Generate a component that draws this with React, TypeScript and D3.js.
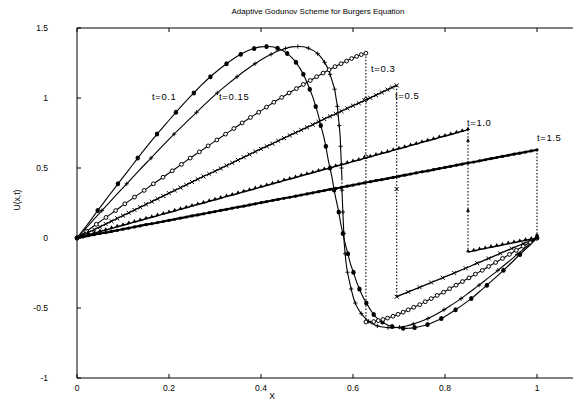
import React from "react";
import * as d3 from "d3";

const W = 573;
const H = 403;

const titleText = "Adaptive Godunov Scheme for Burgers Equation";
const xLabel = "X";
const yLabel = "U(x,t)";
const xTicks = [0, 0.2, 0.4, 0.6, 0.8, 1];
const xTickLabels = ["0", "0.2", "0.4", "0.6", "0.8", "1"];
const yTicks = [-1, -0.5, 0, 0.5, 1, 1.5];
const yTickLabels = ["-1", "-0.5", "0", "0.5", "1", "1.5"];

// Solution profiles U(x,t), as [x, u] pairs. Two consecutive points sharing
// the same x mark a shock (drawn as a dotted vertical jump).
const u_t010: [number, number][] = [
  [0, 0], [0.023, 0.098], [0.045, 0.196], [0.067, 0.292], [0.089, 0.387],
  [0.111, 0.48], [0.132, 0.571], [0.153, 0.658], [0.174, 0.742], [0.195, 0.822],
  [0.215, 0.898], [0.235, 0.97], [0.254, 1.036], [0.272, 1.097], [0.29, 1.152],
  [0.308, 1.202], [0.325, 1.245], [0.341, 1.282], [0.356, 1.312], [0.371, 1.337],
  [0.385, 1.354], [0.399, 1.365], [0.412, 1.368], [0.424, 1.366], [0.436, 1.356],
  [0.447, 1.34], [0.457, 1.317], [0.467, 1.289], [0.476, 1.255], [0.484, 1.215],
  [0.492, 1.169], [0.499, 1.118], [0.506, 1.063], [0.513, 1.003], [0.519, 0.94],
  [0.525, 0.873], [0.53, 0.803], [0.536, 0.73], [0.541, 0.655], [0.545, 0.578],
  [0.55, 0.5], [0.555, 0.421], [0.559, 0.342], [0.564, 0.263], [0.569, 0.185],
  [0.573, 0.108], [0.578, 0.032], [0.583, -0.041], [0.589, -0.112], [0.594, -0.18],
  [0.601, -0.245], [0.607, -0.306], [0.614, -0.364], [0.621, -0.416], [0.629, -0.465],
  [0.637, -0.508], [0.645, -0.547], [0.654, -0.578], [0.664, -0.6], [0.674, -0.62],
  [0.685, -0.632], [0.697, -0.641], [0.709, -0.645], [0.721, -0.645], [0.734, -0.64],
  [0.748, -0.631], [0.762, -0.618], [0.777, -0.598], [0.792, -0.575], [0.807, -0.546],
  [0.823, -0.512], [0.84, -0.474], [0.857, -0.433], [0.874, -0.386], [0.891, -0.337],
  [0.909, -0.285], [0.927, -0.231], [0.945, -0.175], [0.963, -0.117], [0.982, -0.059],
  [1, 0],
];

const u_t015: [number, number][] = [
  [0, 0], [0.027, 0.098], [0.054, 0.196], [0.081, 0.292], [0.108, 0.387],
  [0.134, 0.48], [0.161, 0.571], [0.186, 0.658], [0.211, 0.742], [0.236, 0.822],
  [0.26, 0.898], [0.283, 0.97], [0.305, 1.036], [0.327, 1.097], [0.348, 1.152],
  [0.368, 1.202], [0.387, 1.245], [0.405, 1.282], [0.422, 1.312], [0.438, 1.337],
  [0.453, 1.354], [0.467, 1.365], [0.48, 1.368], [0.492, 1.366], [0.503, 1.356],
  [0.513, 1.34], [0.523, 1.317], [0.531, 1.289], [0.538, 1.255], [0.545, 1.215],
  [0.55, 1.169], [0.555, 1.118], [0.56, 1.063], [0.563, 1.003], [0.566, 0.94],
  [0.568, 0.873], [0.57, 0.803], [0.572, 0.73], [0.573, 0.655], [0.574, 0.578],
  [0.575, 0.5], [0.576, 0.421], [0.576, 0.342], [0.577, 0.263], [0.578, 0.185],
  [0.579, 0.108], [0.58, 0.032], [0.581, -0.041], [0.583, -0.112], [0.585, -0.18],
  [0.588, -0.245], [0.592, -0.306], [0.596, -0.364], [0.6, -0.416], [0.605, -0.465],
  [0.611, -0.506], [0.618, -0.54], [0.626, -0.57], [0.634, -0.595], [0.643, -0.614],
  [0.653, -0.628], [0.664, -0.636], [0.676, -0.64], [0.688, -0.64], [0.701, -0.637],
  [0.716, -0.628], [0.731, -0.615], [0.747, -0.597], [0.763, -0.575], [0.78, -0.546],
  [0.798, -0.512], [0.816, -0.474], [0.835, -0.433], [0.854, -0.386], [0.874, -0.337],
  [0.894, -0.285], [0.915, -0.231], [0.936, -0.175], [0.957, -0.117], [0.978, -0.059],
  [1, 0],
];

const u_t030: [number, number][] = [
  [0, 0], [0.021, 0.049], [0.042, 0.098], [0.063, 0.147], [0.084, 0.196],
  [0.104, 0.244], [0.125, 0.292], [0.146, 0.34], [0.166, 0.387], [0.187, 0.434],
  [0.207, 0.48], [0.227, 0.526], [0.246, 0.571], [0.266, 0.615], [0.285, 0.658],
  [0.304, 0.7], [0.323, 0.742], [0.341, 0.782], [0.359, 0.822], [0.377, 0.861],
  [0.395, 0.898], [0.412, 0.935], [0.428, 0.97], [0.445, 1.004], [0.461, 1.036],
  [0.477, 1.067], [0.492, 1.097], [0.507, 1.125], [0.521, 1.152], [0.535, 1.178],
  [0.548, 1.202], [0.561, 1.224], [0.574, 1.245], [0.586, 1.264], [0.597, 1.282],
  [0.608, 1.297], [0.618, 1.31], [0.628, 1.32],
  [0.628, 0.99], [0.628, 0.58], [0.628, -0.6],
  [0.645, -0.597], [0.655, -0.59], [0.665, -0.582], [0.675, -0.572], [0.687, -0.559],
  [0.698, -0.545], [0.709, -0.53], [0.72, -0.513], [0.732, -0.495], [0.745, -0.476],
  [0.757, -0.455], [0.77, -0.433], [0.783, -0.41], [0.797, -0.387], [0.81, -0.362],
  [0.824, -0.337], [0.838, -0.311], [0.852, -0.285], [0.866, -0.258], [0.881, -0.231],
  [0.895, -0.203], [0.91, -0.175], [0.925, -0.146], [0.94, -0.117], [0.955, -0.088],
  [0.97, -0.059], [0.985, -0.03], [1, 0],
];

const u_t050: [number, number][] = [
  [0, 0], [0.0125, 0.02], [0.025, 0.04], [0.0375, 0.06], [0.05, 0.08],
  [0.0625, 0.1], [0.075, 0.12], [0.0875, 0.14], [0.1, 0.16], [0.1125, 0.18],
  [0.125, 0.2], [0.1375, 0.22], [0.15, 0.24], [0.1625, 0.26], [0.175, 0.28],
  [0.1875, 0.3], [0.2, 0.32], [0.2125, 0.34], [0.225, 0.36], [0.2375, 0.38],
  [0.25, 0.4], [0.2625, 0.42], [0.275, 0.44], [0.2875, 0.458], [0.3, 0.477],
  [0.3125, 0.497], [0.325, 0.517], [0.3375, 0.537], [0.35, 0.557], [0.3625, 0.577],
  [0.375, 0.597], [0.3875, 0.617], [0.4, 0.637], [0.4125, 0.655], [0.425, 0.674],
  [0.4375, 0.694], [0.45, 0.713], [0.4625, 0.733], [0.475, 0.752], [0.4875, 0.771],
  [0.5, 0.79], [0.5125, 0.81], [0.525, 0.83], [0.5375, 0.85], [0.55, 0.869],
  [0.5625, 0.887], [0.575, 0.906], [0.5875, 0.926], [0.6, 0.945], [0.6125, 0.963],
  [0.625, 0.982], [0.6375, 1.001], [0.65, 1.02], [0.6625, 1.04], [0.675, 1.06],
  [0.685, 1.075], [0.695, 1.09],
  [0.695, 0.35], [0.695, -0.42],
  [0.72, -0.385], [0.745, -0.352], [0.77, -0.318], [0.795, -0.284], [0.82, -0.25],
  [0.845, -0.216], [0.87, -0.18], [0.895, -0.146], [0.92, -0.11], [0.945, -0.075],
  [0.97, -0.04], [1, 0],
];

const u_t100: [number, number][] = [
  [0, 0], [0.0125, 0.011], [0.025, 0.023], [0.0375, 0.034], [0.05, 0.046],
  [0.0625, 0.057], [0.075, 0.068], [0.0875, 0.08], [0.1, 0.091], [0.1125, 0.102],
  [0.125, 0.114], [0.1375, 0.125], [0.15, 0.137], [0.1625, 0.148], [0.175, 0.159],
  [0.1875, 0.171], [0.2, 0.182], [0.2125, 0.193], [0.225, 0.205], [0.2375, 0.216],
  [0.25, 0.228], [0.2625, 0.239], [0.275, 0.25], [0.2875, 0.262], [0.3, 0.273],
  [0.3125, 0.284], [0.325, 0.296], [0.3375, 0.307], [0.35, 0.318], [0.3625, 0.33],
  [0.375, 0.341], [0.3875, 0.352], [0.4, 0.364], [0.4125, 0.375], [0.425, 0.387],
  [0.4375, 0.398], [0.45, 0.41], [0.4625, 0.421], [0.475, 0.432], [0.4875, 0.444],
  [0.5, 0.455], [0.5125, 0.466], [0.525, 0.478], [0.5375, 0.489], [0.55, 0.5],
  [0.5625, 0.512], [0.575, 0.523], [0.5875, 0.534], [0.6, 0.546], [0.6125, 0.557],
  [0.625, 0.569], [0.6375, 0.58], [0.65, 0.592], [0.6625, 0.603], [0.675, 0.614],
  [0.6875, 0.626], [0.7, 0.637], [0.7125, 0.648], [0.725, 0.66], [0.7375, 0.671],
  [0.75, 0.683], [0.7625, 0.694], [0.775, 0.705], [0.7875, 0.717], [0.8, 0.728],
  [0.8125, 0.739], [0.825, 0.751], [0.8375, 0.762], [0.85, 0.774],
  [0.85, 0.69], [0.85, 0.19], [0.85, -0.1],
  [0.8625, -0.092], [0.875, -0.083], [0.8875, -0.075], [0.9, -0.066], [0.9125, -0.058],
  [0.925, -0.05], [0.9375, -0.041], [0.95, -0.033], [0.9625, -0.025], [0.975, -0.016],
  [0.9875, -0.008], [1, 0],
];

const u_t150: [number, number][] = [
  [0, 0], [0.0125, 0.008], [0.025, 0.016], [0.0375, 0.024], [0.05, 0.032],
  [0.0625, 0.039], [0.075, 0.047], [0.0875, 0.055], [0.1, 0.063], [0.1125, 0.071],
  [0.125, 0.079], [0.1375, 0.087], [0.15, 0.095], [0.1625, 0.102], [0.175, 0.11],
  [0.1875, 0.118], [0.2, 0.126], [0.2125, 0.134], [0.225, 0.142], [0.2375, 0.15],
  [0.25, 0.158], [0.2625, 0.165], [0.275, 0.173], [0.2875, 0.181], [0.3, 0.189],
  [0.3125, 0.197], [0.325, 0.205], [0.3375, 0.213], [0.35, 0.221], [0.3625, 0.228],
  [0.375, 0.236], [0.3875, 0.244], [0.4, 0.252], [0.4125, 0.26], [0.425, 0.268],
  [0.4375, 0.276], [0.45, 0.284], [0.4625, 0.291], [0.475, 0.299], [0.4875, 0.307],
  [0.5, 0.315], [0.5125, 0.323], [0.525, 0.331], [0.5375, 0.339], [0.55, 0.347],
  [0.5625, 0.354], [0.575, 0.362], [0.5875, 0.37], [0.6, 0.378], [0.6125, 0.386],
  [0.625, 0.394], [0.6375, 0.402], [0.65, 0.41], [0.6625, 0.417], [0.675, 0.425],
  [0.6875, 0.433], [0.7, 0.441], [0.7125, 0.449], [0.725, 0.457], [0.7375, 0.465],
  [0.75, 0.473], [0.7625, 0.48], [0.775, 0.488], [0.7875, 0.496], [0.8, 0.504],
  [0.8125, 0.512], [0.825, 0.52], [0.8375, 0.528], [0.85, 0.536], [0.8625, 0.543],
  [0.875, 0.551], [0.8875, 0.559], [0.9, 0.567], [0.9125, 0.575], [0.925, 0.583],
  [0.9375, 0.591], [0.95, 0.599], [0.9625, 0.606], [0.975, 0.614], [0.9875, 0.622],
  [1, 0.63],
  [1, 0.02],
];

type Marker = "dot" | "plus" | "ring" | "times" | "tri" | "smalldot";

const margin = { left: 77, top: 28, bottom: 378 };

export default function App() {
  const x = d3.scaleLinear().domain([0, 1.1]).range([margin.left, margin.left + 506]);
  const y = d3.scaleLinear().domain([-1, 1.5]).range([margin.bottom, margin.top]);

  const series: {
    name: string;
    pts: [number, number][];
    marker: Marker;
    width: number;
    every: number;
    label: [number, number];
  }[] = [
    { name: "t=0.1", pts: u_t010, marker: "dot", width: 1.1, every: 2, label: [152, 100] },
    { name: "t=0.15", pts: u_t015, marker: "plus", width: 1.1, every: 2, label: [219, 100] },
    { name: "t=0.3", pts: u_t030, marker: "ring", width: 1.1, every: 1, label: [371, 72] },
    { name: "t=0.5", pts: u_t050, marker: "times", width: 1.3, every: 1, label: [395, 99] },
    { name: "t=1.0", pts: u_t100, marker: "tri", width: 1.5, every: 1, label: [467, 126] },
    { name: "t=1.5", pts: u_t150, marker: "smalldot", width: 2.2, every: 1, label: [537, 141] },
  ];

  const line = d3
    .line<[number, number]>()
    .x((d) => x(d[0]))
    .y((d) => y(d[1]))
    .curve(d3.curveCatmullRom.alpha(0.5));

  // split a profile into smooth runs and vertical shock jumps
  const split = (pts: [number, number][]) => {
    const runs: [number, number][][] = [];
    const jumps: [[number, number], [number, number]][] = [];
    let cur: [number, number][] = [pts[0]];
    for (let i = 1; i < pts.length; i++) {
      const p = pts[i - 1];
      const q = pts[i];
      if (Math.abs(q[0] - p[0]) < 1e-9) {
        if (cur.length > 1) runs.push(cur);
        jumps.push([p, q]);
        cur = [q];
      } else {
        cur.push(q);
      }
    }
    if (cur.length > 1) runs.push(cur);
    return { runs, jumps };
  };

  const triPath = d3.symbol().type(d3.symbolTriangle).size(7)() || "";
  const plusPath = d3.symbol().type(d3.symbolPlus).size(7)() || "";
  const timesPath = d3.symbol().type(d3.symbolTimes).size(12)() || "";

  const drawMarker = (m: Marker, px: number, py: number, key: string) => {
    switch (m) {
      case "dot":
        return <ellipse key={key} cx={px} cy={py} rx={2.2} ry={2.5} fill="#000" />;
      case "ring":
        return <circle key={key} cx={px} cy={py} r={1.9} fill="#fff" stroke="#000" strokeWidth={1} />;
      case "plus":
        return <path key={key} d={plusPath} transform={`translate(${px},${py})`} fill="none" stroke="#000" strokeWidth={0.9} />;
      case "times":
        return <path key={key} d={timesPath} transform={`translate(${px},${py})`} fill="none" stroke="#000" strokeWidth={1} />;
      case "tri":
        return <path key={key} d={triPath} transform={`translate(${px},${py - 0.8})`} fill="#000" />;
      case "smalldot":
        return <circle key={key} cx={px} cy={py} r={1.6} fill="#000" />;
    }
  };

  const font = "'Liberation Sans', Arial, Helvetica, sans-serif";
  const x0 = x(0);
  const xEnd = x(1.1);

  return (
    <svg
      width={W}
      height={H}
      viewBox={`0 0 ${W} ${H}`}
      style={{ position: "absolute", left: 0, top: 0, background: "#fff" }}
      fontFamily={font}
    >
      <rect x={0} y={0} width={W} height={H} fill="#fff" />
      {/* title */}
      <text x={318} y={14} fontSize={8} textAnchor="middle" fill="#000">
        {titleText}
      </text>

      {/* axes frame */}
      <g stroke="#000" strokeWidth={1} fill="none">
        <line x1={x0} y1={y(1.5)} x2={xEnd} y2={y(1.5)} />
        <line x1={x0} y1={y(-1)} x2={xEnd} y2={y(-1)} />
        <line x1={x0} y1={y(1.5)} x2={x0} y2={y(-1)} />
        <line x1={xEnd} y1={y(1.5)} x2={xEnd} y2={y(-1)} />
      </g>

      {/* ticks */}
      <g stroke="#000" strokeWidth={1}>
        {xTicks.map((t) => (
          <g key={`xt${t}`}>
            <line x1={x(t)} x2={x(t)} y1={y(-1)} y2={y(-1) - 4} />
            <line x1={x(t)} x2={x(t)} y1={y(1.5)} y2={y(1.5) + 4} />
          </g>
        ))}
        {yTicks.map((t) => (
          <line key={`yt${t}`} x1={x0} x2={x0 + 4} y1={y(t)} y2={y(t)} />
        ))}
      </g>
      <g fontSize={8.5} fill="#000">
        {xTicks.map((t, i) => (
          <text key={`xl${t}`} x={x(t)} y={y(-1) + 13} textAnchor="middle">
            {xTickLabels[i]}
          </text>
        ))}
        {yTicks.map((t, i) => (
          <text key={`yl${t}`} x={48} y={y(t) + 3} textAnchor="end">
            {yTickLabels[i]}
          </text>
        ))}
      </g>
      <text x={272} y={399} fontSize={8.5} textAnchor="middle" fill="#000">
        {xLabel}
      </text>
      <text
        x={0}
        y={0}
        fontSize={8.5}
        textAnchor="middle"
        fill="#000"
        transform={`translate(20,200) rotate(-90)`}
      >
        {yLabel}
      </text>

      {/* solution profiles */}
      {series.map((s) => {
        const { runs, jumps } = split(s.pts);
        return (
          <g key={s.name}>
            {runs.map((r, i) => (
              <path key={`r${i}`} d={line(r) || ""} fill="none" stroke="#000" strokeWidth={s.width} />
            ))}
            {jumps.map((j, i) => (
              <line
                key={`j${i}`}
                x1={x(j[0][0])}
                y1={y(j[0][1])}
                x2={x(j[1][0])}
                y2={y(j[1][1])}
                stroke="#000"
                strokeWidth={1.1}
                strokeDasharray="1.5,1.8"
              />
            ))}
            {s.pts
              .filter((_, i) => i % s.every === 0 || i === s.pts.length - 1)
              .map((p, i) => drawMarker(s.marker, x(p[0]), y(p[1]), `m${i}`))}
          </g>
        );
      })}

      {/* curve labels */}
      <g fontSize={9.5} fill="#000" letterSpacing={0.6}>
        {series.map((s) => (
          <text key={`lab${s.name}`} x={s.label[0]} y={s.label[1]}>
            {s.name}
          </text>
        ))}
      </g>
    </svg>
  );
}
